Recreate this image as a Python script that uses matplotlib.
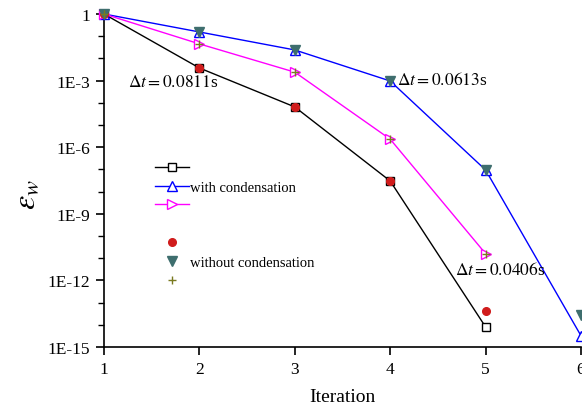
import matplotlib
matplotlib.use("Agg")
import matplotlib.pyplot as plt
from matplotlib.lines import Line2D
from matplotlib.ticker import FixedLocator, FixedFormatter
import numpy as np

plt.rcParams['font.family'] = ['Liberation Serif', 'DejaVu Serif']
plt.rcParams['mathtext.fontset'] = 'stix'

# data
iteration = [1, 2, 3, 4, 5, 6]

# with condensation
cond_0811 = [1.0, 3.7e-3, 6.5e-5, 3.0e-8, 8.0e-15]
cond_0613 = [1.0, 0.155, 0.024, 9.6e-4, 9.4e-8, 3.2e-15]
cond_0406 = [1.0, 0.045, 2.4e-3, 2.3e-6, 1.6e-11]

# without condensation
nocond_0811 = [1.0, 3.7e-3, 6.5e-5, 3.0e-8, 4.2e-14]
nocond_0613 = [1.0, 0.155, 0.024, 9.6e-4, 9.4e-8, 2.8e-14]
nocond_0406 = [1.0, 0.045, 2.4e-3, 2.3e-6, 1.6e-11]

ytick_vals = [1, 1e-3, 1e-6, 1e-9, 1e-12, 1e-15]
ytick_labels = ["1", "1E-3", "1E-6", "1E-9", "1E-12", "1E-15"]

fig = plt.figure(figsize=(5.82, 4.14), dpi=100)
ax = fig.add_axes([104 / 582, 1 - 348 / 414, 477 / 582, 333 / 414])

ax.plot(iteration[:5], cond_0811, color='black', lw=1.0, marker='s', ms=6,
        mfc='white', mec='black', mew=1.0, clip_on=False, zorder=3)
ax.plot(iteration, cond_0613, color='blue', lw=1.0, marker='^', ms=7.5,
        mfc='white', mec='blue', mew=1.0, clip_on=False, zorder=3)
ax.plot(iteration[:5], cond_0406, color='magenta', lw=1.0, marker='>', ms=7.5,
        mfc='white', mec='magenta', mew=1.0, clip_on=False, zorder=3)

ax.plot(iteration[:5], nocond_0811, ls='none', marker='o', ms=5.5,
        color='#d01c1c', clip_on=False, zorder=4)
ax.plot(iteration, nocond_0613, ls='none', marker='v', ms=6.5,
        color='#3e6e6e', clip_on=False, zorder=4)
ax.plot(iteration[:5], nocond_0406, ls='none', marker='+', ms=6,
        mew=1.0, color='#7a7a20', clip_on=False, zorder=5)

ax.set_yscale('log')
ax.set_xlim(1, 6)
ax.set_ylim(1e-15, 1)
ax.yaxis.set_major_locator(FixedLocator(ytick_vals))
ax.yaxis.set_major_formatter(FixedFormatter(ytick_labels))
ax.yaxis.set_minor_locator(FixedLocator([10.0 ** -k for k in range(16) if k % 3]))
ax.yaxis.set_minor_formatter(FixedFormatter([]))
ax.set_xticks(iteration)

for side in ['top', 'right']:
    ax.spines[side].set_visible(False)
for side in ['left', 'bottom']:
    ax.spines[side].set_linewidth(1.2)
ax.tick_params(axis='both', which='major', direction='out', length=6, width=1.2,
               labelsize=12.5, pad=4)
ax.tick_params(axis='y', which='minor', direction='out', length=4, width=1.0)

ax.set_xlabel("Iteration", fontsize=14, labelpad=8)
ax.set_ylabel(r"$\varepsilon_w$", fontsize=23)
ax.yaxis.set_label_coords(-0.13, 0.46)

ax.text(1.25, 10 ** -3.06, r"$\Delta t = 0.0811$s", fontsize=12.5, va='center')
ax.text(4.07, 10 ** -2.97, r"$\Delta t = 0.0613$s", fontsize=12.5, va='center')
ax.text(4.68, 10 ** -11.5, r"$\Delta t = 0.0406$s", fontsize=12.5, va='center')

handles = [
    Line2D([], [], color='black', lw=1.0, marker='s', ms=6, mfc='white', mec='black'),
    Line2D([], [], color='blue', lw=1.0, marker='^', ms=7.5, mfc='white', mec='blue'),
    Line2D([], [], color='magenta', lw=1.0, marker='>', ms=7.5, mfc='white', mec='magenta'),
    Line2D([], [], ls='none'),
    Line2D([], [], ls='none', marker='o', ms=5.5, color='#d01c1c'),
    Line2D([], [], ls='none', marker='v', ms=6.5, color='#3e6e6e'),
    Line2D([], [], ls='none', marker='+', ms=6, mew=1.0, color='#7a7a20'),
]
labels = ["", "with condensation", "", "", "", "without condensation", ""]
ax.legend(handles, labels, loc='upper left', bbox_to_anchor=(0.107, 0.557),
          bbox_transform=ax.transAxes, frameon=False, fontsize=10.5,
          handlelength=2.3, handletextpad=0.1, labelspacing=0.39,
          borderpad=0, borderaxespad=0, numpoints=1)

fig.savefig("out.png", dpi=100)
